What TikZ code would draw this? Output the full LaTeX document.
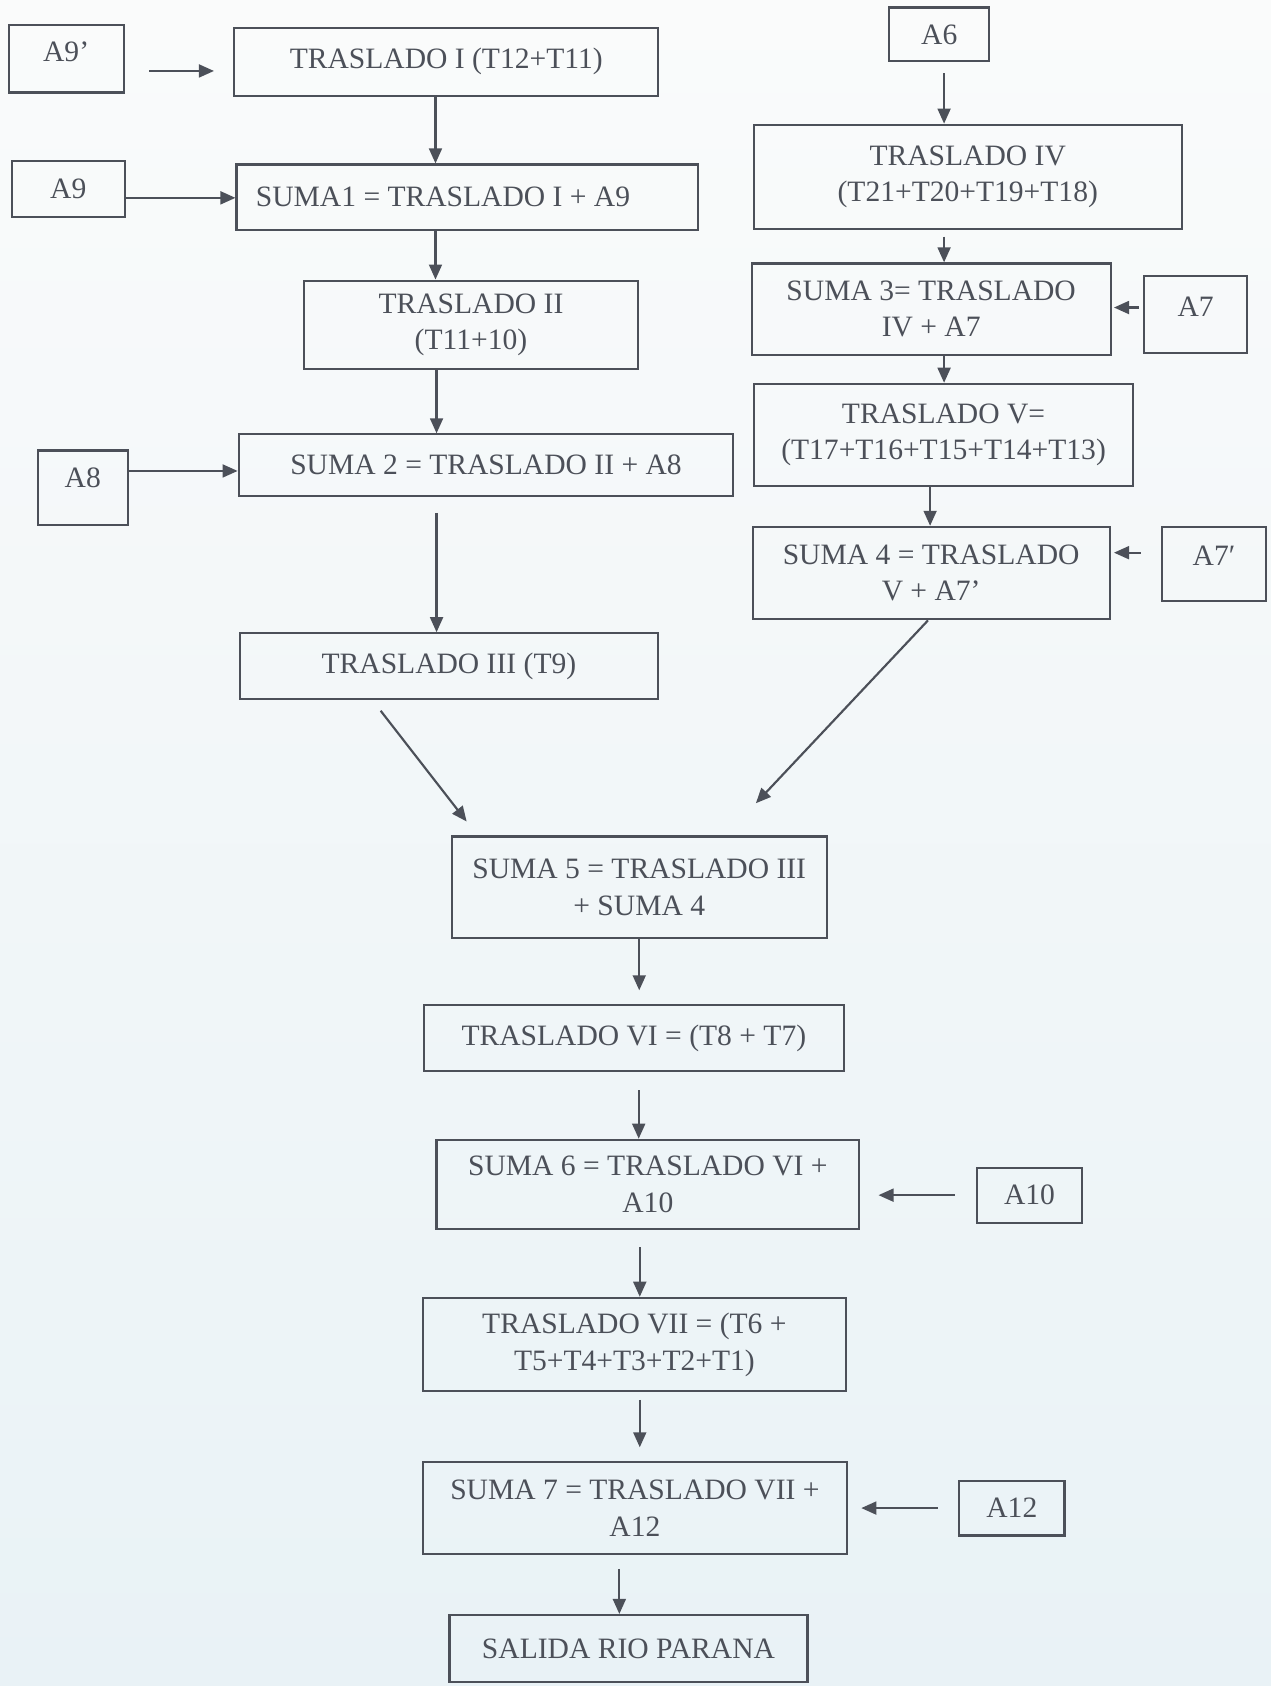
\documentclass[tikz,border=0pt]{standalone}
\usepackage{fontspec}
\setmainfont{Liberation Serif}
\usetikzlibrary{arrows.meta}
\definecolor{ink}{HTML}{4C5059}
\definecolor{bgtop}{HTML}{FAFBFB}
\definecolor{bgbot}{HTML}{E9F2F6}
\tikzset{
  box/.style={draw=ink, line width=1pt, rectangle, inner sep=0pt, align=center, text=ink,
    font=\fontsize{13.75}{17}\selectfont},
  arr/.style={draw=ink, line width=1pt, -{Triangle[length=7pt,width=6pt]}}
}
\newcommand\bx[7][]{\node[box, minimum width={(#5-#3)*0.5pt}, minimum height={(#6-#4)*0.5pt}, #1] (#2) at ({(#3+#5)/2},{(#4+#6)/2}) {#7};}
\begin{document}
\begin{tikzpicture}[x=0.5pt,y=-0.5pt]
\shade[top color=bgtop, bottom color=bgbot] (0,0) rectangle (1182,1568);
\useasboundingbox (0,0) rectangle (1182,1568);
% left column
\bx[text depth=6.2pt]{a9p}{8}{23}{115}{86}{A9’}
\bx{t1}{218}{26}{612}{89}{TRASLADO I (T12+T11)}
\bx{a9}{11}{150}{116}{202}{A9}
\bx{s1}{220}{153}{649}{214}{\hbox to 196.5pt{SUMA1 = TRASLADO I + A9\hfil}}
\bx{t2}{283}{261}{593}{343}{TRASLADO II\\(T11+10)}
\bx{s2}{222}{404}{682}{461}{SUMA 2 = TRASLADO II + A8}
\bx[text depth=9pt]{a8}{35}{419}{119}{488}{A8}
\bx{t3}{223}{589}{612}{650}{TRASLADO III (T9)}
% right column
\bx{a6}{827}{7}{920}{57}{A6}
\bx{t4}{701}{116}{1099}{213}{TRASLADO IV\\(T21+T20+T19+T18)}
\bx{s3}{699}{245}{1033}{330}{SUMA 3= TRASLADO\\IV + A7}
\bx[text depth=7pt]{a7}{1064}{257}{1160}{328}{A7}
\bx{t5}{701}{357}{1054}{452}{TRASLADO V=\\(T17+T16+T15+T14+T13)}
\bx{s4}{700}{490}{1032}{576}{SUMA 4 = TRASLADO\\V + A7’}
\bx[text depth=8pt]{a7p}{1081}{490}{1177}{559}{A7′}
% centre column
\bx{s5}{420}{778}{769}{872}{SUMA 5 = TRASLADO III\\+ SUMA 4}
\bx{t6}{394}{935}{785}{996}{TRASLADO VI = (T8 + T7)}
\bx{s6}{406}{1060}{799}{1143}{SUMA 6 = TRASLADO VI +\\A10}
\bx{a10}{909}{1086}{1006}{1137}{A10}
\bx{t7}{393}{1207}{787}{1294}{TRASLADO VII = (T6 +\\T5+T4+T3+T2+T1)}
\bx{s7}{393}{1360}{788}{1445}{SUMA 7 = TRASLADO VII +\\A12}
\bx{a12}{892}{1377}{990}{1428}{A12}
\bx{sal}{418}{1502}{751}{1564}{SALIDA RIO PARANA}
% connectors
\draw[arr, shorten <=11.5pt, shorten >=9pt] ([yshift=-5.75pt]a9p.east) -- ([yshift=-4.25pt]t1.west);
\draw[arr] ([yshift=-4pt]a9.east) -- ([yshift=-0.25pt]s1.west);
\draw[arr] ([xshift=-5pt]t1.south) -- ([xshift=-5pt]t1.south |- s1.north);
\draw[arr] ([xshift=-14.75pt]s1.south) -- ([xshift=-14.75pt]s1.south |- t2.north);
\draw[arr] ([xshift=-16pt]t2.south) -- ([xshift=-16pt]t2.south |- s2.north);
\draw[arr] ([yshift=7.75pt]a8.east) -- ([yshift=-2.75pt]s2.west);
\draw[arr, shorten <=7.5pt] ([xshift=-23pt]s2.south) -- ([xshift=-23pt]s2.south |- t3.north);
\draw[arr] ([xshift=66pt,yshift=-5pt]t3.south west) -- ([xshift=7.5pt,yshift=6.5pt]s5.north west);
\draw[arr] ([xshift=-1.5pt]s4.south) -- ([xshift=-33.5pt,yshift=15pt]s5.north east);
\draw[arr, shorten <=5pt] ([xshift=2.25pt]a6.south) -- ([xshift=2.25pt]a6.south |- t4.north);
\draw[arr, shorten <=3pt] ([xshift=-11pt]t4.south) -- ([xshift=-11pt]t4.south |- s3.north);
\draw[arr, shorten <=2pt, shorten >=1pt] ([yshift=3.25pt]a7.west) -- ([yshift=0.75pt]s3.east);
\draw[arr] ([xshift=6pt]s3.south) -- ([xshift=6pt]s3.south |- t5.north);
\draw[arr] ([xshift=-6.25pt]t5.south) -- ([xshift=-6.25pt]t5.south |- s4.north);
\draw[arr, shorten <=9.5pt, shorten >=1.5pt] ([yshift=5.25pt]a7p.west) -- ([yshift=9.5pt]s4.east);
\draw[arr, shorten >=6.5pt] (s5.south) -- (s5.south |- t6.north);
\draw[arr, shorten <=8.5pt] ([xshift=2.25pt]t6.south) -- ([xshift=2.25pt]t6.south |- s6.north);
\draw[arr, shorten <=10pt, shorten >=8.5pt] (a10.west) -- (s6.east |- a10.west);
\draw[arr, shorten <=8pt] ([xshift=-3.75pt]s6.south) -- ([xshift=-3.75pt]s6.south |- t7.north);
\draw[arr, shorten <=3.5pt, shorten >=6.5pt] ([xshift=2.5pt]t7.south) -- ([xshift=2.5pt]t7.south |- s7.north);
\draw[arr, shorten <=9.5pt, shorten >=6pt] (a12.west) -- (s7.east |- a12.west);
\draw[arr, shorten <=6.5pt] ([xshift=-7.25pt]s7.south) -- ([xshift=-7.25pt]s7.south |- sal.north);
\end{tikzpicture}
\end{document}
